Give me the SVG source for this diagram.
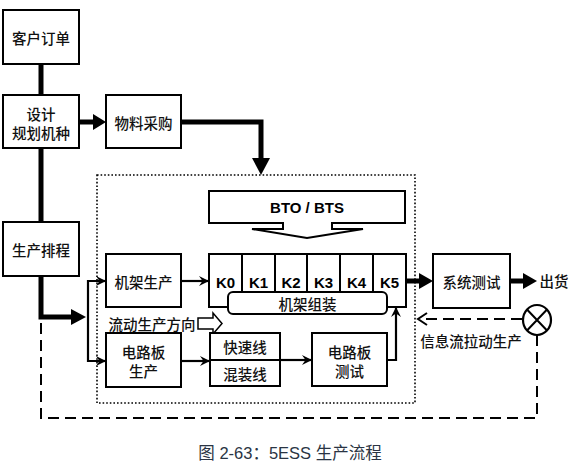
<svg xmlns="http://www.w3.org/2000/svg" width="570" height="465" viewBox="0 0 570 465">
<defs>
<style>
.box{fill:#fff;stroke:#000;stroke-width:2}
.t{font-family:"Noto Sans CJK SC","Liberation Sans",sans-serif;font-size:14.5px;font-weight:500;fill:#111;text-anchor:middle;dominant-baseline:central}
.k{font-family:"Liberation Sans",Arial,sans-serif;font-weight:bold;font-size:15px;fill:#000;text-anchor:middle;dominant-baseline:central}
.thick{stroke:#000;stroke-width:5;fill:none}
.thin{stroke:#000;stroke-width:2.2;fill:none}
.dash{stroke:#000;stroke-width:2;fill:none;stroke-dasharray:11 6}
.dot{stroke:#000;stroke-width:1.6;fill:none;stroke-dasharray:1.6 2}
</style>
<marker id="ah" markerWidth="10" markerHeight="10" refX="9" refY="5" orient="auto" markerUnits="userSpaceOnUse">
<path d="M0,0 L10,5 L0,10 L3.5,5 Z" fill="#000"/>
</marker>
</defs>
<rect width="570" height="465" fill="#fff"/>

<g id="dotted-frame"><rect class="dot" x="97" y="175" width="318" height="228"/></g>

<g id="connectors">
<line class="thick" x1="41" y1="64" x2="41" y2="96"/>
<line class="thick" x1="41" y1="148" x2="41" y2="222"/>
<path class="thick" d="M79,122 H94"/>
<path d="M93,114 L106,122 L93,130 Z"/>
<path class="thick" d="M181,122 H261 V160"/>
<path d="M252,158 L261,175 L270,158 Z"/>
<path class="thick" d="M41,276 V317 H73"/>
<path d="M71,309 L86,317 L71,325 Z"/>
<path class="thin" d="M106,281 H88 V361 H106"/>
<path class="thin" d="M96,281 H105" marker-end="url(#ah)"/>
<path class="thin" d="M96,361 H105" marker-end="url(#ah)"/>
<path class="thin" d="M181,281 H208" marker-end="url(#ah)"/>
<path class="thin" d="M181,361 H209" marker-end="url(#ah)"/>
<path class="thin" d="M280,360 H311" marker-end="url(#ah)"/>
<path class="thin" d="M387,360 H396 V308" marker-end="url(#ah)"/>
<path class="thick" d="M406,281 H421"/>
<path d="M419,273 L433,281 L419,289 Z"/>
<path class="thick" d="M510,281 H525"/>
<path d="M523,273 L537,281 L523,289 Z"/>
<path class="dash" d="M537,335 V418 H41 V318"/>
<path class="dash" d="M522,319 H420"/>
<path d="M427,313 L418,319 L427,325" fill="none" stroke="#000" stroke-width="2"/>
<path d="M198,318 H213 V313 L222,323.5 L213,334 V329 H198 Z" fill="#fff" stroke="#000" stroke-width="1.5"/>
</g>

<g id="customer-order"><rect class="box" x="3" y="10" width="76" height="54"/><text class="t" x="41" y="37">客户订单</text></g>
<g id="design"><rect class="box" x="3" y="95" width="76" height="53"/><text class="t" x="41" y="113">设计</text><text class="t" x="41" y="132">规划机种</text></g>
<g id="material"><rect class="box" x="106" y="95" width="75" height="53"/><text class="t" x="143.5" y="122">物料采购</text></g>
<g id="scheduling"><rect class="box" x="3" y="222" width="76" height="54"/><text class="t" x="41" y="249">生产排程</text></g>
<g id="rack-prod"><rect class="box" x="106" y="254" width="75" height="53"/><text class="t" x="143.5" y="281">机架生产</text></g>
<g id="board-prod"><rect class="box" x="106" y="333" width="75" height="54"/><text class="t" x="143.5" y="351">电路板</text><text class="t" x="143.5" y="370">生产</text></g>
<g id="bto-bts"><path d="M209,191 H405 V223 H332 V229 H363 L307,238 L252,229 H283 V223 H209 Z" fill="#fff" stroke="#000" stroke-width="2"/><text class="k" x="307" y="207">BTO / BTS</text></g>
<g id="rack-k">
<rect class="box" x="209" y="254" width="197" height="53"/>
<path d="M242,254 V307 M275,254 V307 M307,254 V307 M340,254 V307 M373,254 V307" stroke="#000" stroke-width="2"/>
<text class="k" x="225.5" y="282">K0</text><text class="k" x="258.5" y="282">K1</text><text class="k" x="291" y="282">K2</text><text class="k" x="323.5" y="282">K3</text><text class="k" x="356.5" y="282">K4</text><text class="k" x="389.5" y="282">K5</text>
</g>
<g id="rack-assembly"><rect class="box" x="228" y="292" width="159" height="22" rx="5"/><text class="t" x="307.5" y="303">机架组装</text></g>
<g id="flow-label"><text class="t" x="152" y="323">流动生产方向</text></g>
<g id="fast-line"><rect class="box" x="210" y="333" width="70" height="53"/><line x1="210" y1="360" x2="280" y2="360" stroke="#000" stroke-width="2"/><text class="t" x="245" y="346">快速线</text><text class="t" x="245" y="373">混装线</text></g>
<g id="board-test"><rect class="box" x="312" y="333" width="75" height="53"/><text class="t" x="349.5" y="351">电路板</text><text class="t" x="349.5" y="370">测试</text></g>
<g id="system-test"><rect class="box" x="433" y="254" width="77" height="54"/><text class="t" x="471.5" y="281">系统测试</text></g>
<g id="ship"><text class="t" x="554" y="280">出货</text></g>
<g id="pull-node"><ellipse cx="537" cy="320" rx="14" ry="15" fill="#fff" stroke="#000" stroke-width="2.2"/><path d="M527,309.5 L547,330.5 M547,309.5 L527,330.5" stroke="#000" stroke-width="2"/></g>
<g id="pull-label"><text class="t" x="471" y="340">信息流拉动生产</text></g>
<g id="caption"><text x="290" y="453" font-family="'Liberation Sans','Noto Sans CJK SC',sans-serif" font-size="16.5" fill="#2a3443" text-anchor="middle" dominant-baseline="central">图 2-63：5ESS 生产流程</text></g>
</svg>
